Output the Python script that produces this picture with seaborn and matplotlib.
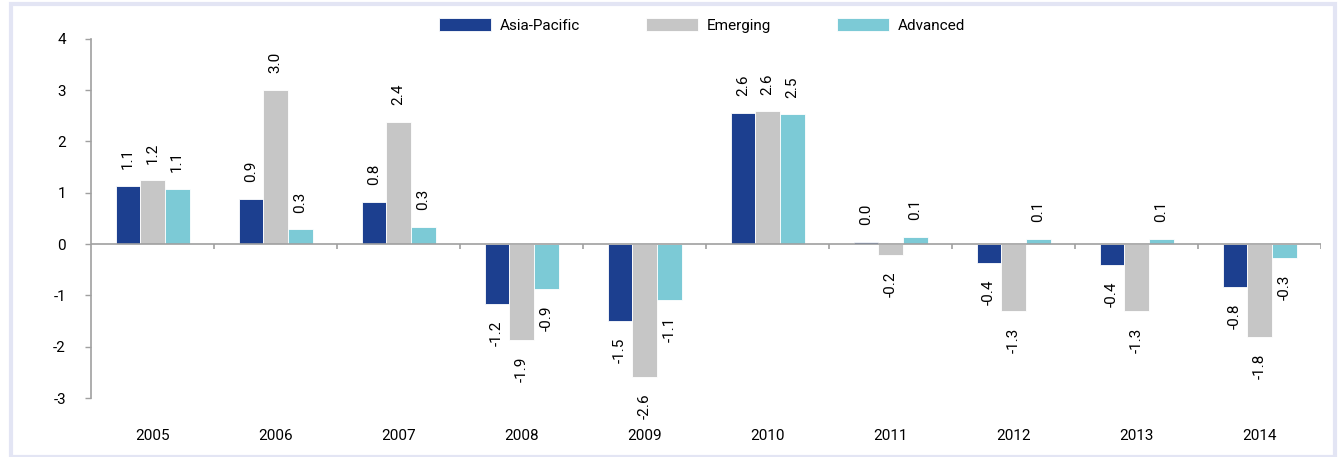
import pandas as pd
import numpy as np
import matplotlib.pyplot as plt
import seaborn as sns
from matplotlib.patches import Rectangle

# values
years = ['2005', '2006', '2007', '2008', '2009', '2010', '2011', '2012', '2013', '2014']
asia_pacific = [1.13, 0.88, 0.82, -1.16, -1.50, 2.56, 0.04, -0.37, -0.41, -0.84]
emerging = [1.24, 3.01, 2.38, -1.87, -2.59, 2.59, -0.21, -1.31, -1.31, -1.81]
advanced = [1.08, 0.29, 0.34, -0.88, -1.09, 2.53, 0.14, 0.10, 0.10, -0.27]
regions = ['Asia-Pacific', 'Emerging', 'Advanced']

df = pd.DataFrame({'Year': years * 3,
                   'Value': asia_pacific + emerging + advanced,
                   'Region': np.repeat(regions, len(years))})

palette = {'Asia-Pacific': '#1c3f8f', 'Emerging': '#c6c6c6', 'Advanced': '#7ccad6'}

sns.set_style('white')
plt.rcParams['font.family'] = ['Roboto', 'DejaVu Sans']
plt.rcParams['axes.unicode_minus'] = False
plt.rcParams['text.color'] = '#000000'

fig = plt.figure(figsize=(13.4, 4.57), dpi=100)
ax = fig.add_axes([0.068, 0.129, 0.918, 0.786])

sns.barplot(data=df, x='Year', y='Value', hue='Region', palette=palette, saturation=1,
            width=0.6, gap=0, edgecolor='white', linewidth=0.6, ax=ax)

# rotated value labels above / below each bar
for cont in ax.containers:
    ax.bar_label(cont, fmt='%.1f', rotation=90, padding=12, fontsize=11, color='black')

ax.set_xlim(-0.5, len(years) - 0.5)
ax.set_ylim(-3, 4)
ax.set_yticks(range(-3, 5))
ax.set_xlabel('')
ax.set_ylabel('')

# axes styling
for s in ['top', 'right', 'bottom']:
    ax.spines[s].set_visible(False)
ax.spines['left'].set_color('#a0a0a0')
ax.spines['left'].set_linewidth(1.2)
ax.tick_params(axis='y', direction='out', length=4, width=1, color='#a0a0a0',
               labelsize=11, labelcolor='black', pad=14, left=True)
ax.tick_params(axis='x', length=0, labelsize=11, labelcolor='black', pad=22)

# zero line with separators between categories
ax.axhline(0, color='#a0a0a0', linewidth=1.2, zorder=1)
seps = np.arange(len(years) + 1) - 0.5
ax.vlines(seps[1:], 0, -0.09, color='#a0a0a0', linewidth=1.2)

ax.legend(loc='center', bbox_to_anchor=(0.524, 0.945), bbox_transform=fig.transFigure,
          ncol=3, frameon=False, fontsize=11, handlelength=3.4, handleheight=1.0,
          handletextpad=0.6, columnspacing=4.3)

# light frame around the figure
fig.patches.append(Rectangle((0.008, 0.0), 0.988, 0.991, transform=fig.transFigure,
                             fill=False, edgecolor='#e3e5f4', linewidth=3))

fig.savefig('out.png', dpi=100)
